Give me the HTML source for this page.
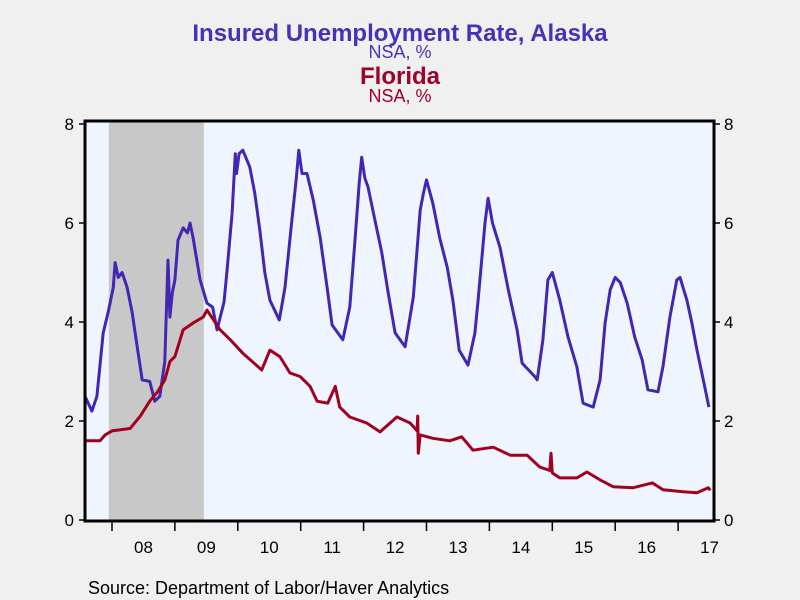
<!DOCTYPE html>
<html><head><meta charset="utf-8"><style>
body{margin:0;background:#f0f0f0;}
svg{display:block;font-family:"Liberation Sans",sans-serif;}
</style></head><body>
<svg id="chart" width="800" height="600">
<rect x="0" y="0" width="800" height="600" fill="#f0f0f0"/>
<text x="400" y="41" text-anchor="middle" font-size="24" font-weight="bold" fill="#4a30b8">Insured Unemployment Rate, Alaska</text>
<text x="400" y="58" text-anchor="middle" font-size="18" fill="#4a30b8">NSA, %</text>
<text x="400" y="84" text-anchor="middle" font-size="24" font-weight="bold" fill="#a0002a">Florida</text>
<text x="400" y="102" text-anchor="middle" font-size="18" fill="#a0002a">NSA, %</text>
<text x="88" y="594" font-size="18" fill="#000">Source:  Department of Labor/Haver Analytics</text>
<g id="plot"></g>
</svg>
<script>
const yTicks=[0,2,4,6,8];
const yearLabels=["08","09","10","11","12","13","14","15","16","17"];
const recession=[2007.95,2009.46];
const alaskaDates=[2007.57,2007.68,2007.76,2007.86,2007.94,2008.02,2008.05,2008.10,2008.16,2008.24,2008.32,2008.40,2008.48,2008.60,2008.68,2008.76,2008.84,2008.89,2008.92,2008.96,2009.00,2009.05,2009.13,2009.20,2009.24,2009.29,2009.40,2009.51,2009.60,2009.67,2009.72,2009.78,2009.83,2009.91,2009.96,2009.98,2010.02,2010.08,2010.19,2010.27,2010.35,2010.43,2010.51,2010.66,2010.75,2010.86,2010.93,2010.97,2011.02,2011.10,2011.20,2011.31,2011.42,2011.50,2011.67,2011.78,2011.86,2011.93,2011.97,2012.02,2012.07,2012.18,2012.29,2012.39,2012.50,2012.66,2012.79,2012.90,2012.95,2013.00,2013.10,2013.21,2013.33,2013.42,2013.52,2013.66,2013.77,2013.82,2013.88,2013.93,2013.98,2014.05,2014.17,2014.30,2014.44,2014.52,2014.72,2014.76,2014.85,2014.93,2015.00,2015.12,2015.25,2015.39,2015.49,2015.65,2015.76,2015.84,2015.92,2016.00,2016.08,2016.19,2016.31,2016.43,2016.52,2016.68,2016.76,2016.87,2016.98,2017.03,2017.14,2017.22,2017.30,2017.40,2017.49];
const alaskaValues=[2.5,2.2,2.5,3.78,4.2,4.7,5.2,4.9,5.0,4.7,4.2,3.5,2.83,2.8,2.4,2.5,3.2,5.25,4.1,4.6,4.85,5.65,5.9,5.8,6.0,5.7,4.85,4.38,4.3,3.84,4.1,4.4,5.05,6.2,7.4,7.0,7.4,7.47,7.13,6.6,5.86,5.0,4.44,4.04,4.7,6.06,6.9,7.47,7.0,7.0,6.46,5.7,4.7,3.94,3.64,4.3,5.6,6.8,7.33,6.9,6.73,6.06,5.4,4.6,3.78,3.5,4.5,6.26,6.6,6.87,6.4,5.7,5.1,4.44,3.43,3.13,3.78,4.44,5.3,6.0,6.5,6.0,5.5,4.65,3.84,3.17,2.9,2.83,3.64,4.85,5.0,4.44,3.7,3.1,2.36,2.28,2.83,3.98,4.65,4.9,4.8,4.38,3.7,3.23,2.63,2.59,3.1,4.1,4.85,4.9,4.44,3.98,3.43,2.83,2.28];
const floridaDates=[2007.57,2007.81,2007.89,2008.0,2008.29,2008.45,2008.60,2008.73,2008.84,2008.92,2009.0,2009.13,2009.29,2009.45,2009.51,2009.72,2009.88,2010.08,2010.38,2010.51,2010.67,2010.83,2010.99,2011.15,2011.26,2011.43,2011.55,2011.62,2011.78,2012.05,2012.26,2012.53,2012.74,2012.85,2012.86,2012.87,2012.90,2013.10,2013.37,2013.56,2013.74,2014.06,2014.33,2014.60,2014.80,2014.96,2014.98,2015.00,2015.12,2015.39,2015.55,2015.76,2015.97,2016.28,2016.59,2016.76,2017.08,2017.30,2017.48,2017.51];
const floridaValues=[1.6,1.6,1.72,1.8,1.85,2.1,2.4,2.6,2.83,3.2,3.3,3.84,3.98,4.1,4.24,3.84,3.64,3.37,3.03,3.43,3.3,2.97,2.9,2.7,2.4,2.36,2.7,2.28,2.08,1.96,1.78,2.08,1.96,1.8,2.1,1.35,1.72,1.65,1.6,1.68,1.41,1.47,1.31,1.31,1.07,1.0,1.35,0.95,0.85,0.85,0.97,0.81,0.67,0.65,0.75,0.61,0.57,0.55,0.65,0.6];

const L=85,R=714,T=121,B=521,Y0=520,PPU=49.5;
const xs=t=>112+(t-2008)*62.9;
const ys=v=>Y0-v*PPU;
const NS="http://www.w3.org/2000/svg";
const g=document.getElementById('plot');
function mk(tag,attrs){const e=document.createElementNS(NS,tag);for(const k in attrs)e.setAttribute(k,attrs[k]);g.appendChild(e);return e;}

const bg=mk('rect',{x:L,y:T,width:R-L,height:B-T,fill:'#eef5ff'});


const rec=mk('rect',{x:xs(recession[0]),y:T,width:xs(recession[1])-xs(recession[0]),height:B-T,fill:'#c8c8c8'});



function line(dates,vals,color,name){
  const d=dates.map((t,i)=>(i?'L':'M')+xs(t).toFixed(1)+','+ys(vals[i]).toFixed(1)).join(' ');
  const p=mk('path',{d:d,fill:'none',stroke:color,'stroke-width':3,'stroke-linejoin':'round'});
  
  
}
line(alaskaDates,alaskaValues,'#4327b2','alaska-line');
line(floridaDates,floridaValues,'#a3001f','florida-line');

const fr=mk('rect',{x:L,y:T,width:R-L,height:B-T,fill:'none',stroke:'#000','stroke-width':3});



yTicks.forEach(v=>{
  const y=ys(v);
  mk('line',{x1:L-6,x2:L,y1:y,y2:y,stroke:'#000','stroke-width':1.5});
  mk('line',{x1:R,x2:R+6,y1:y,y2:y,stroke:'#000','stroke-width':1.5});
  const a=mk('text',{x:L-11,y:y+6,'text-anchor':'end','font-size':17});
  a.textContent=v;
  
  
  const b=mk('text',{x:R+10,y:y+6,'font-size':17});
  b.textContent=v;
  
  
});
yearLabels.forEach((lab,i)=>{
  const yr=2008+i;
  const x=xs(yr);
  mk('line',{x1:x,x2:x,y1:B,y2:B+10,stroke:'#000','stroke-width':1.5});
  const cx=i===yearLabels.length-1?Math.min(xs(yr+0.5),R-4):xs(yr+0.5);
  const t=mk('text',{x:cx,y:B+32,'text-anchor':'middle','font-size':17});
  t.textContent=lab;
  
  
});
</script>
</body></html>
